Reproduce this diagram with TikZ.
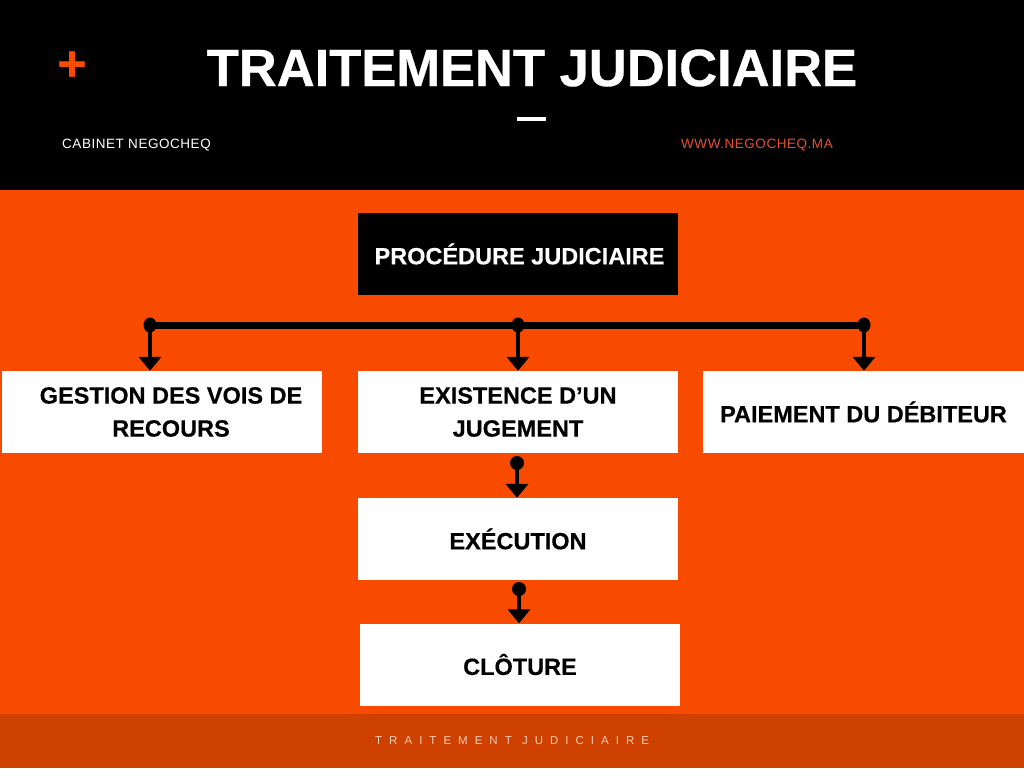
\documentclass[tikz,border=0pt]{standalone}
\usepackage{fontspec}
\setmainfont{Liberation Sans}
\newfontfamily\titlefont[FakeBold=0.6]{Liberation Sans}
\newfontfamily\boxfont[FakeBold=0.35]{Liberation Sans}
\newfontfamily\footfont[LetterSpace=61]{Liberation Sans}
\newfontfamily\headfont[LetterSpace=4]{Liberation Sans}
\usetikzlibrary{arrows.meta}
\definecolor{bodyorange}{HTML}{F94B00}
\definecolor{footorange}{HTML}{CF4100}
\definecolor{foottext}{HTML}{F6CDB8}
\definecolor{weborange}{HTML}{E4522B}
\tikzset{
  whitebox/.style={fill=white, draw=none, minimum width=320pt, minimum height=82pt, inner sep=0pt,
    align=center, font=\boxfont\bfseries\fontsize{23.5}{33}\selectfont, text=black},
  blackbox/.style={whitebox, fill=black, text=white},
  bus/.style={line width=7pt},
  conn/.style={line width=4pt, -{Triangle[width=22pt,length=14pt]}},
  dot/.style={fill=black},
}
\begin{document}
\begin{tikzpicture}[x=1pt,y=-1pt]
\useasboundingbox (0,0) rectangle (1024,768);
% backgrounds
\fill[black] (0,0) rectangle (1024,190);
\fill[bodyorange] (0,190) rectangle (1024,714);
\fill[footorange] (0,714) rectangle (1024,768);
% header
\node[text=bodyorange, font=\titlefont\bfseries\fontsize{50}{50}\selectfont, inner sep=0pt] (plus) at (72,66) {+};
\node[text=white, font=\titlefont\bfseries\fontsize{52.5}{54}\selectfont, inner sep=0pt] (title) at (532,68) {TRAITEMENT JUDICIAIRE};
\node[fill=white, minimum width=29pt, minimum height=4pt, inner sep=0pt] (dash) at (531,119) {};
\node[text=white, font=\headfont\fontsize{13.5}{14}\selectfont, anchor=west, inner sep=0pt] (cab) at (62,145) {CABINET NEGOCHEQ};
\node[text=weborange, font=\headfont\fontsize{13.5}{14}\selectfont, anchor=west, inner sep=0pt] (web) at (681,145) {WWW.NEGOCHEQ.MA};
% boxes
\node[blackbox] (proc) at (518,254) {\hspace*{3pt}PROCÉDURE JUDICIAIRE};
\node[whitebox] (gest) at (162,412) {\hspace*{18pt}GESTION DES VOIS DE\\\hspace*{18pt}RECOURS};
\node[whitebox] (exist) at (518,412) {EXISTENCE D’UN\\JUGEMENT};
\node[whitebox, minimum width=321pt] (paie) at (863.5,412) {PAIEMENT DU DÉBITEUR};
\node[whitebox] (exec) at (518,539) {EXÉCUTION};
\node[whitebox] (clot) at (520,664.5) {CLÔTURE};
% bus
\coordinate (bL) at (150,325);
\coordinate (bM) at (518,325);
\coordinate (bR) at (864,325);
\draw[bus] (bL) -- (bR);
\foreach \c in {bL,bM,bR} {\fill[dot] (\c) ellipse[x radius=6.5pt, y radius=7.5pt];}
\draw[conn] (bL) -- (bL |- gest.north);
\draw[conn] (bM) -- (bM |- exist.north);
\draw[conn] (bR) -- (bR |- paie.north);
% lower connectors
\coordinate (d1) at (517,463);
\coordinate (d2) at (519,589);
\fill[dot] (d1) circle[radius=7pt];
\fill[dot] (d2) circle[radius=7pt];
\draw[conn] (d1) -- (d1 |- exec.north);
\draw[conn] (d2) -- (d2 |- clot.north);
% footer
\node[text=foottext, font=\footfont\fontsize{11.5}{12}\selectfont, anchor=west, inner sep=0pt] (foot) at (375,741) {TRAITEMENT JUDICIAIRE};
\end{tikzpicture}
\end{document}
